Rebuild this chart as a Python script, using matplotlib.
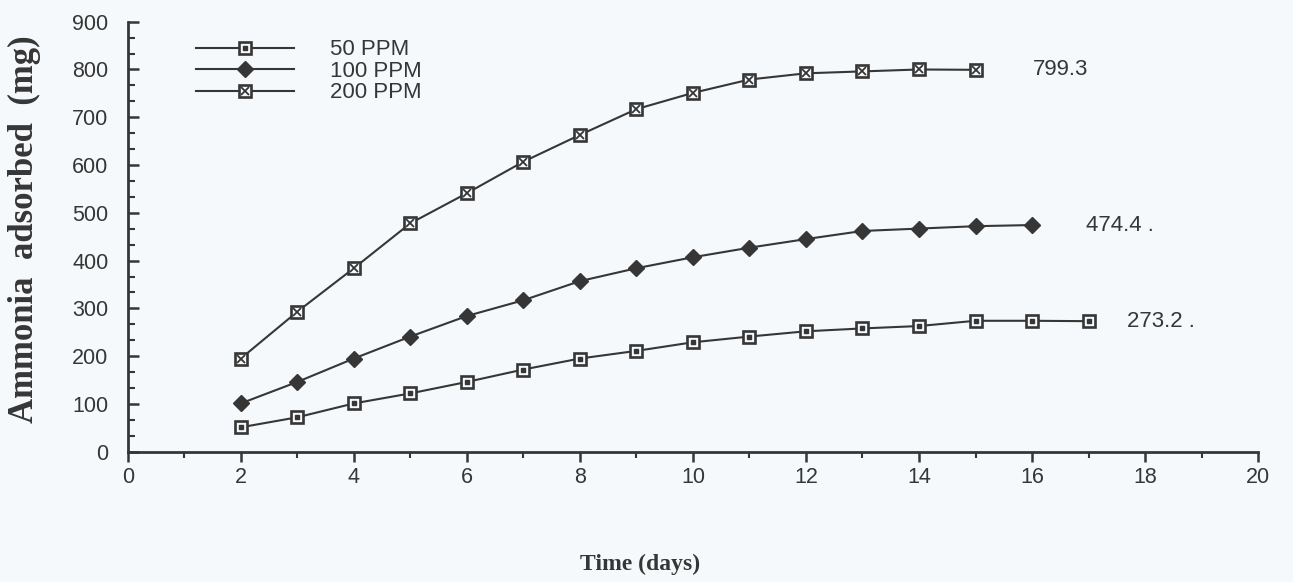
import matplotlib
matplotlib.use("Agg")
import matplotlib.pyplot as plt
from matplotlib.ticker import MultipleLocator
from matplotlib.legend_handler import HandlerTuple

# Ammonia uptake over time at three concentrations
days_50 = [2, 3, 4, 5, 6, 7, 8, 9, 10, 11, 12, 13, 14, 15, 16, 17]
ppm_50 = [51, 72, 101, 122, 146, 172, 195, 211, 229, 241, 252, 258, 263, 274, 274, 273.2]

days_100 = [2, 3, 4, 5, 6, 7, 8, 9, 10, 11, 12, 13, 14, 15, 16]
ppm_100 = [101, 146, 195, 241, 284, 317, 357, 384, 407, 427, 445, 462, 467, 472, 474.4]

days_200 = [2, 3, 4, 5, 6, 7, 8, 9, 10, 11, 12, 13, 14, 15]
ppm_200 = [195, 293, 384, 478, 541, 607, 663, 717, 751, 779, 792, 796, 800, 799.3]

series_labels = ["50 PPM", "100 PPM", "200 PPM"]
end_labels = ["273.2 .", "474.4 .", "799.3"]

INK = "#363636"
BG = "#f6f9fb"
SANS = ["Liberation Sans", "DejaVu Sans"]
SERIF = ["Liberation Serif", "DejaVu Serif"]
FS = 15.5

fig = plt.figure(figsize=(12.93, 5.82), dpi=100, facecolor=BG)
ax = fig.add_axes([0.0988, 0.2239, 0.8742, 0.7388], facecolor=BG)

line_kw = dict(color=INK, lw=1.5, zorder=3)
box_kw = dict(marker="s", ms=9, mfc=BG, mec=INK, mew=1.9, zorder=4)

# 50 PPM: square with a dot inside
l50, = ax.plot(days_50, ppm_50, **line_kw)
m50a, = ax.plot(days_50, ppm_50, ls="none", **box_kw)
m50b, = ax.plot(days_50, ppm_50, ls="none", marker="s", ms=2.6,
                mfc=INK, mec=INK, zorder=5)

# 100 PPM: filled diamond
l100, = ax.plot(days_100, ppm_100, **line_kw)
m100, = ax.plot(days_100, ppm_100, ls="none", marker="D", ms=8,
                mfc=INK, mec=INK, zorder=4)

# 200 PPM: crossed square
l200, = ax.plot(days_200, ppm_200, **line_kw)
m200a, = ax.plot(days_200, ppm_200, ls="none", **box_kw)
m200b, = ax.plot(days_200, ppm_200, ls="none", marker="x", ms=6,
                 mec=INK, mew=1.3, zorder=5)

# final-value annotations
ends = [(days_50[-1], ppm_50[-1], 28), (days_100[-1], ppm_100[-1], 39),
        (days_200[-1], ppm_200[-1], 41)]
for (xe, ye, dx), txt in zip(ends, end_labels):
    ax.annotate(txt, xy=(xe, ye), xytext=(dx, 0), textcoords="offset points",
                ha="left", va="center", fontsize=FS + 0.5, color=INK,
                family=SANS)

ax.set_xlim(0, 20)
ax.set_ylim(0, 900)
for side in ("top", "right"):
    ax.spines[side].set_visible(False)
for side in ("left", "bottom"):
    ax.spines[side].set_linewidth(2.0)
    ax.spines[side].set_color(INK)

ax.xaxis.set_major_locator(MultipleLocator(2))
ax.xaxis.set_minor_locator(MultipleLocator(1))
ax.yaxis.set_major_locator(MultipleLocator(100))
ax.yaxis.set_minor_locator(MultipleLocator(100 / 3))

ax.tick_params(axis="x", which="major", direction="out", length=7, width=1.8,
               color=INK, labelsize=FS, labelcolor=INK, pad=4)
ax.tick_params(axis="x", which="minor", direction="out", length=4, width=1.5,
               color=INK)
ax.tick_params(axis="y", which="major", direction="in", length=8, width=1.8,
               color=INK, labelsize=FS, labelcolor=INK, pad=14)
ax.tick_params(axis="y", which="minor", direction="in", length=5, width=1.5,
               color=INK)
for lab in ax.get_xticklabels() + ax.get_yticklabels():
    lab.set_family(SANS)

leg = ax.legend([(l50, m50a, m50b), (l100, m100), (l200, m200a, m200b)],
                series_labels,
                handler_map={tuple: HandlerTuple(ndivide=1, pad=0)},
                loc="upper left", bbox_to_anchor=(0.047, 0.995), frameon=False,
                handlelength=4.4, handletextpad=1.6, labelspacing=0.02,
                borderpad=0.2, prop={"family": SANS, "size": FS + 0.5})
for t in leg.get_texts():
    t.set_color(INK)

fig.text(0.019, 0.607, "Ammonia  adsorbed  (mg)", rotation=90, ha="center",
         va="center", fontsize=25, fontweight="bold", family=SERIF, color=INK)
fig.text(0.495, 0.03, "Time (days)", ha="center", va="center", fontsize=17,
         fontweight="bold", family=SERIF, color=INK)

fig.savefig("out.png", dpi=100, facecolor=BG)
